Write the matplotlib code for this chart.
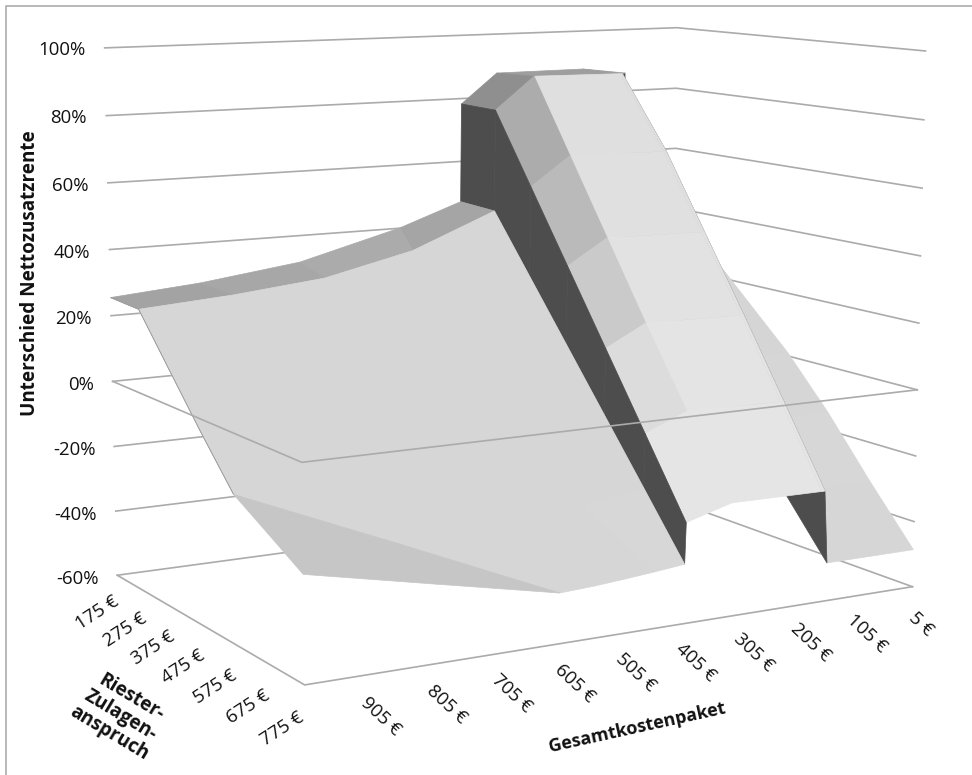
import numpy as np
import matplotlib
matplotlib.use('Agg')
import matplotlib.pyplot as plt
from matplotlib.lines import Line2D
from mpl_toolkits.mplot3d import proj3d

plt.rcParams['font.family'] = ['Open Sans', 'DejaVu Sans']

cost_ticks = [905, 805, 705, 605, 505, 405, 305, 205, 105, 5]
riester_ticks = [175, 275, 375, 475, 575, 675, 775]
percent_ticks = [100, 80, 60, 40, 20, 0, -20, -40, -60]

# one row per Riester amount, the cost breaks move a little from row to row
riester = [175, 275, 375, 475, 575, 675, 775]
cost = [
    [1005, 1005, 1005, 861, 694, 520, 411, 409, 345, 185, 105, 100, 5],
    [1005, 1005, 1005, 855, 705, 555, 411, 409, 340, 183, 178, 173, 5],
    [1005, 1005, 1005, 855, 705, 555, 411, 409, 340, 170, 165, 160, 5],
    [1005, 1005, 1005, 855, 705, 555, 411, 409, 340, 170, 165, 160, 5],
    [1005, 1005, 1005, 855, 705, 555, 411, 409, 340, 170, 165, 160, 5],
    [1005, 905, 806, 705, 620, 515, 411, 409, 338, 172, 167, 162, 5],
    [1005, 810, 616, 560, 510, 460, 411, 409, 332, 174, 169, 163, 5],
]
nettorente = [
    [25.5, 25.5, 25.5, 27.7, 31.7, 40.1, 47.1, 78.3, 87.6, 87.7, 85.8, 40.0, 40.0],
    [25.0, 25.0, 25.0, 26.9, 29.7, 36.0, 46.5, 78.0, 88.0, 87.6, 87.5, 27.0, 27.0],
    [10.6, 10.6, 10.6, 12.3, 14.5, 19.9, 28.7, 56.3, 65.1, 64.6, 64.6, 14.0, 14.0],
    [-3.7, -3.7, -3.7, -2.3, -0.7, 3.8, 10.9, 34.6, 42.2, 41.7, 41.7, 1.0, 1.0],
    [-17.3, -17.3, -17.3, -16.9, -15.9, -12.3, -6.9, 12.9, 19.3, 18.8, 18.8, -14.5, -14.5],
    [-23.6, -27.6, -31.6, -31.0, -30.2, -28.0, -24.7, -8.8, -3.6, -4.0, -4.0, -32.0, -32.0],
    [-30.0, -37.8, -45.5, -45.0, -44.3, -43.5, -42.6, -30.5, -26.6, -26.9, -26.9, -48.6, -48.6],
]

BOX = (1, 0.6519, 0.7947)
GRID = '#ababab'
TEXT = '#111111'


def face_colors(X, Y, Z):
    # excel style shading: flat is mid grey, sloping toward the viewer is light, walls are dark
    u = X / 1000 * BOX[0]
    v = Y / 600 * BOX[1]
    w = Z / 160 * BOX[2]
    colors = np.zeros((X.shape[0] - 1, X.shape[1] - 1, 4))
    for i in range(X.shape[0] - 1):
        for j in range(X.shape[1] - 1):
            d1 = np.array([u[i + 1, j + 1] - u[i, j], v[i + 1, j + 1] - v[i, j], w[i + 1, j + 1] - w[i, j]])
            d2 = np.array([u[i + 1, j] - u[i, j + 1], v[i + 1, j] - v[i, j + 1], w[i + 1, j] - w[i, j + 1]])
            n = np.cross(d1, d2)
            size = np.linalg.norm(n)
            n = n / size if size > 1e-9 else np.array([0, 0, 1.0])
            if n[2] < 0:
                n = -n
            gray = np.interp(n[1], [0, 0.27, 0.5, 0.66], [158, 198, 213, 215])
            mid = (X[i, j] + X[i, j + 1]) / 2
            if 160 < mid < 405:
                # the plateau gets its own light
                if n[1] > 0.3:
                    gray = 221 + (Y[i, j] - 175) / 60
                extra = max(0, n[0] - 0.25)
                gray -= 370 * extra * n[1] + 45 * extra
            if n[2] < 0.3:
                gray = 77
            colors[i, j] = (gray / 255, gray / 255, gray / 255, 1)
    return colors


X = np.array(cost, float)
Y = np.repeat(np.array(riester, float)[:, None], X.shape[1], axis=1)
Z = np.array(nettorente, float)

fig = plt.figure(figsize=(9.72, 7.75), dpi=100)
side = 943.5
ax = fig.add_axes([27.19 / 972, -28.88 / 775, side / 972, side / 775],
                  projection='3d', computed_zorder=False)
ax.set_xlim(5, 1005)
ax.set_ylim(175, 775)
ax.set_zlim(-60, 100)
ax.view_init(elev=9.386, azim=60.122)
ax.set_proj_type('persp', focal_length=0.5436)
ax.set_box_aspect(BOX)
ax.set_axis_off()
ax.patch.set_alpha(0)

for p in percent_ticks:
    ax.plot([1005, 5, 5], [175, 175, 775], [p, p, p], color=GRID, lw=1.2, zorder=1)

# draw the strips from right to left, the viewer sits on the expensive side
colors = face_colors(X, Y, Z)
for j in range(X.shape[1] - 2, -1, -1):
    strip = ax.plot_surface(X[:, j:j + 2], Y[:, j:j + 2], Z[:, j:j + 2], facecolors=colors[:, j:j + 1],
                            rcount=50, ccount=50, shade=False, linewidth=0.5, zorder=20 - j)
    strip.set_edgecolor(colors[:, j:j + 1].reshape(-1, 4))

for p in (0, -60):
    ax.plot([1005, 1005, 5], [175, 775, 775], [p, p, p], color=GRID, lw=1.2, zorder=30)

fig.canvas.draw()


def box_text(c, r, z, label, **kwargs):
    # text placed by its data position, kept 2d so the rotation stays on screen
    x, y, _ = proj3d.proj_transform(c, r, z, ax.get_proj())
    fx, fy = fig.transFigure.inverted().transform(ax.transData.transform((x, y)))
    fig.text(fx, fy, label, color=TEXT, fontsize=13.4, rotation_mode='anchor', **kwargs)


for p in percent_ticks:
    box_text(1035, 175, p - 0.5, '%d%%' % p, ha='right', va='center')
for c in cost_ticks:
    box_text(c, 795, -70.5, '%d €' % c, ha='center', va='center', rotation=-43)
for r in riester_ticks:
    box_text(1038, r, -71, '%d €' % r, ha='center', va='center', rotation=33)

fig.text(30 / 972, 1 - 273 / 775, 'Unterschied Nettozusatzrente', rotation=90, ha='center', va='center',
         fontsize=13.6, fontweight='bold', color=TEXT)
fig.text(637 / 972, 1 - 728 / 775, 'Gesamtkostenpaket', rotation=12.5, ha='center', va='center',
         rotation_mode='anchor', fontsize=13, fontweight='bold', color=TEXT)
fig.text(120 / 972, 1 - 715 / 775, 'Riester-\nZulagen-\nanspruch', rotation=-31, ha='center', va='center',
         rotation_mode='anchor', multialignment='center', fontsize=13.6, fontweight='bold', color=TEXT,
         linespacing=1.05)

fig.add_artist(Line2D([6 / 972, 6 / 972, 1], [0, 1 - 6 / 775, 1 - 6 / 775], color=GRID, lw=1.2))

fig.savefig('out.png', dpi=100)
